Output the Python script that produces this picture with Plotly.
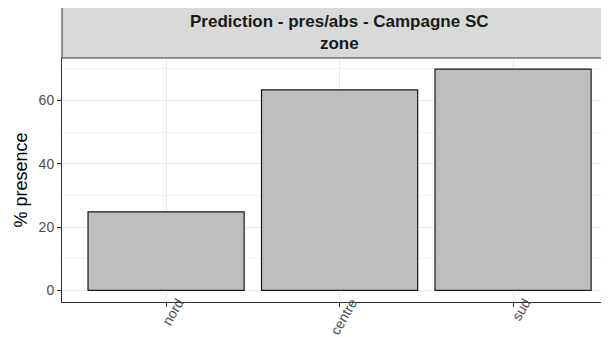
import plotly.graph_objects as go

zones = ["nord", "centre", "sud"]
presence = [24.8, 63.3, 69.9]
y_ticks = [0, 20, 40, 60]
strip_title = "Prediction - pres/abs - Campagne SC<br>zone"
y_title = "% presence"

FONT = "Liberation Sans, Arial, sans-serif"

# the page body adds an 8px offset, so the figure is sized to fill the rest of the window
fig = go.Figure()
fig.add_trace(go.Bar(
    x=zones, y=presence, width=0.9,
    marker=dict(color="#BEBEBE", line=dict(color="#1A1A1A", width=1.2)),
))

fig.update_layout(
    width=601, height=329,
    margin=dict(l=54, r=0, t=50, b=35),
    paper_bgcolor="white", plot_bgcolor="white",
    showlegend=False,
    font=dict(family=FONT),
    xaxis=dict(
        type="category", range=[-0.6, 2.553], automargin=False,
        showgrid=True, gridcolor="#EBEBEB", gridwidth=1.2,
        showline=True, linecolor="#333333", linewidth=1,
        ticks="outside", ticklen=4, tickcolor="#333333", tickwidth=1,
        tickangle=-60, tickfont=dict(size=14, color="#4D4D4D"),
        ticklabelshift=12, ticklabelstandoff=-18,
        zeroline=False,
    ),
    yaxis=dict(
        range=[-3.66, 73.39], tickvals=y_ticks, automargin=False,
        showgrid=True, gridcolor="#EBEBEB", gridwidth=1.2,
        minor=dict(dtick=10, tick0=0, showgrid=True, gridcolor="#F2F2F2", gridwidth=0.8),
        showline=True, linecolor="#333333", linewidth=1,
        ticks="outside", ticklen=4, tickcolor="#333333", tickwidth=1,
        tickfont=dict(size=14, color="#4D4D4D"),
        title=dict(text=y_title, font=dict(size=18, color="black"), standoff=6),
        zeroline=False,
    ),
    shapes=[dict(
        type="rect", xref="paper", yref="paper",
        x0=0, x1=1.05, y0=1, y1=1 + 51 / 244,
        fillcolor="#D9D9D9", line=dict(color="#333333", width=1), layer="above",
    )],
    annotations=[dict(
        text="<b>" + strip_title.replace("<br>", "</b><br><b>") + "</b>",
        x=zones[1], xref="x", y=1 + 25.5 / 244, yref="paper",
        showarrow=False, xanchor="center", yanchor="middle",
        font=dict(size=17, color="#1A1A1A", family=FONT),
    )],
)

fig.write_html("out.html")
